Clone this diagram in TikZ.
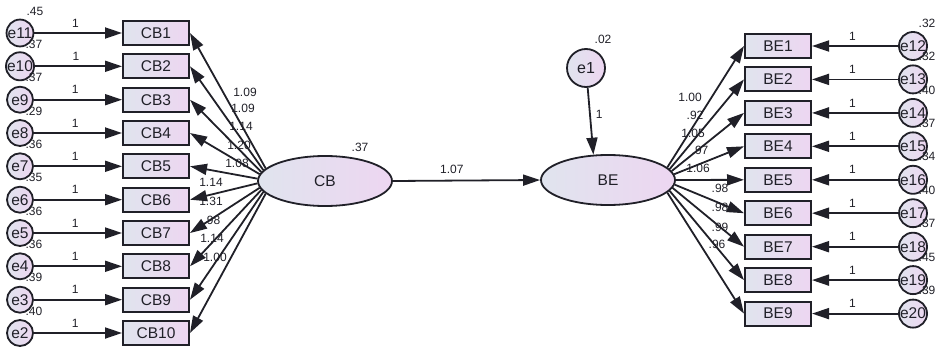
\documentclass[tikz,border=0pt]{standalone}
\usepackage{fontspec}
\setmainfont{Liberation Sans}
\usetikzlibrary{arrows.meta,shapes.geometric}
\definecolor{inkgray}{HTML}{202028}
\definecolor{fillA}{HTML}{E0E4EE}
\definecolor{fillB}{HTML}{EDD6F1}

\begin{document}
\begin{tikzpicture}[x=1pt,y=-1pt]
        \tikzset{obs/.style = {shape=rectangle,draw=inkgray,line width=2pt,left color=fillA,right color=fillB,minimum width=66pt,minimum height=24pt,inner sep=0pt,text=inkgray,font=\fontsize{15.5}{15.5}\selectfont}}
        \tikzset{err/.style = {shape=circle,draw=inkgray,line width=1.8pt,left color=fillA,right color=fillB,minimum size=26pt,inner sep=0pt,text=inkgray,font=\fontsize{15.5}{15.5}\selectfont}}
        \tikzset{latent/.style = {shape=ellipse,draw=inkgray,line width=1.8pt,left color=fillA,right color=fillB,minimum width=134pt,minimum height=50pt,inner sep=0pt,text=inkgray,font=\fontsize{15.5}{15.5}\selectfont}}
        \tikzset{edge/.style = {-{Triangle[length=17pt,width=11pt]},line width=1.8pt,draw=inkgray}}
        \tikzset{coef/.style = {inner sep=0pt,text=inkgray,font=\fontsize{12}{12}\selectfont}}
        \useasboundingbox (0,0) rectangle (936,348);
        % latent variables
        \node[latent] (CB) at (325,181) {CB};
        \node[latent] (BE) at (608,180) {BE};
        \node[err,minimum size=38pt,font=\fontsize{16}{16}\selectfont] (e1) at (586,68) {e1};
        % observed, CB side
        \node[obs] (CB1)  at (156,33)    {CB1};
        \node[obs] (CB2)  at (156,66.3)  {CB2};
        \node[obs] (CB3)  at (156,99.7)  {CB3};
        \node[obs] (CB4)  at (156,133)   {CB4};
        \node[obs] (CB5)  at (156,166.3) {CB5};
        \node[obs] (CB6)  at (156,199.7) {CB6};
        \node[obs] (CB7)  at (156,233)   {CB7};
        \node[obs] (CB8)  at (156,266.3) {CB8};
        \node[obs] (CB9)  at (156,299.7) {CB9};
        \node[obs] (CB10) at (156,333)   {CB10};
        % errors, CB side
        \node[err] (e11) at (20,33)    {e11};
        \node[err] (e10) at (20,66.3)  {e10};
        \node[err] (e9)  at (20,99.7)  {e9};
        \node[err] (e8)  at (20,133)   {e8};
        \node[err] (e7)  at (20,166.3) {e7};
        \node[err] (e6)  at (20,199.7) {e6};
        \node[err] (e5)  at (20,233)   {e5};
        \node[err] (e4)  at (20,266.3) {e4};
        \node[err] (e3)  at (20,299.7) {e3};
        \node[err] (e2)  at (20,333)   {e2};
        % observed, BE side
        \node[obs] (BE1) at (778,46)    {BE1};
        \node[obs] (BE2) at (778,79.4)  {BE2};
        \node[obs] (BE3) at (778,112.9) {BE3};
        \node[obs] (BE4) at (778,146.3) {BE4};
        \node[obs] (BE5) at (778,179.8) {BE5};
        \node[obs] (BE6) at (778,213.2) {BE6};
        \node[obs] (BE7) at (778,246.7) {BE7};
        \node[obs] (BE8) at (778,280.1) {BE8};
        \node[obs] (BE9) at (778,313.6) {BE9};
        % errors, BE side
        \node[err] (e12) at (913,46)    {e12};
        \node[err] (e13) at (913,79.4)  {e13};
        \node[err] (e14) at (913,112.9) {e14};
        \node[err] (e15) at (913,146.3) {e15};
        \node[err] (e16) at (913,179.8) {e16};
        \node[err] (e17) at (913,213.2) {e17};
        \node[err] (e18) at (913,246.7) {e18};
        \node[err] (e19) at (913,280.1) {e19};
        \node[err] (e20) at (913,313.6) {e20};
        % edges
        \draw[edge] (CB.east) -- node[coef,above=6pt,pos=0.4] (lCBBE) {1.07} (BE.west);
        \draw[edge] (e1) -- node[coef,right=5pt,pos=0.4] (u1) {1} (BE.120);
        \draw[edge] (CB.168) -- (CB1.east);
        \draw[edge] (CB.170) -- (CB2.east);
        \draw[edge] (CB.172) -- (CB3.east);
        \draw[edge] (CB.174) -- (CB4.east);
        \draw[edge] (CB.178) -- (CB5.east);
        \draw[edge] (CB.182) -- (CB6.east);
        \draw[edge] (CB.186) -- (CB7.east);
        \draw[edge] (CB.188) -- (CB8.east);
        \draw[edge] (CB.190) -- (CB9.east);
        \draw[edge] (CB.192) -- (CB10.east);
        \draw[edge] (BE.12)  -- (BE1.west);
        \draw[edge] (BE.10)  -- (BE2.west);
        \draw[edge] (BE.8)   -- (BE3.west);
        \draw[edge] (BE.5)   -- (BE4.west);
        \draw[edge] (BE.0)   -- (BE5.west);
        \draw[edge] (BE.-4)  -- (BE6.west);
        \draw[edge] (BE.-7)  -- (BE7.west);
        \draw[edge] (BE.-10) -- (BE8.west);
        \draw[edge] (BE.-12) -- (BE9.west);
        \draw[edge] (e11) -- node[coef,above=5pt,pos=0.47] (u11) {1} (CB1);
        \draw[edge] (e10) -- node[coef,above=5pt,pos=0.47] (u10) {1} (CB2);
        \draw[edge] (e9)  -- node[coef,above=5pt,pos=0.47] (u9)  {1} (CB3);
        \draw[edge] (e8)  -- node[coef,above=5pt,pos=0.47] (u8)  {1} (CB4);
        \draw[edge] (e7)  -- node[coef,above=5pt,pos=0.47] (u7)  {1} (CB5);
        \draw[edge] (e6)  -- node[coef,above=5pt,pos=0.47] (u6)  {1} (CB6);
        \draw[edge] (e5)  -- node[coef,above=5pt,pos=0.47] (u5)  {1} (CB7);
        \draw[edge] (e4)  -- node[coef,above=5pt,pos=0.47] (u4)  {1} (CB8);
        \draw[edge] (e3)  -- node[coef,above=5pt,pos=0.47] (u3)  {1} (CB9);
        \draw[edge] (e2)  -- node[coef,above=5pt,pos=0.47] (u2)  {1} (CB10);
        \draw[edge] (e12) -- node[coef,above=5pt,pos=0.53] (u12) {1} (BE1);
        \draw[edge] (e13) -- node[coef,above=5pt,pos=0.53] (u13) {1} (BE2);
        \draw[edge] (e14) -- node[coef,above=5pt,pos=0.53] (u14) {1} (BE3);
        \draw[edge] (e15) -- node[coef,above=5pt,pos=0.53] (u15) {1} (BE4);
        \draw[edge] (e16) -- node[coef,above=5pt,pos=0.53] (u16) {1} (BE5);
        \draw[edge] (e17) -- node[coef,above=5pt,pos=0.53] (u17) {1} (BE6);
        \draw[edge] (e18) -- node[coef,above=5pt,pos=0.53] (u18) {1} (BE7);
        \draw[edge] (e19) -- node[coef,above=5pt,pos=0.53] (u19) {1} (BE8);
        \draw[edge] (e20) -- node[coef,above=5pt,pos=0.53] (u20) {1} (BE9);
        % loadings
        \node[coef] (lCB1)  at (245,92)  {1.09};
        \node[coef] (lCB2)  at (243,108) {1.09};
        \node[coef] (lCB3)  at (241,126) {1.14};
        \node[coef] (lCB4)  at (239,145) {1.20};
        \node[coef] (lCB5)  at (237,163) {1.08};
        \node[coef] (lCB6)  at (211,182) {1.14};
        \node[coef] (lCB7)  at (211,201) {1.31};
        \node[coef] (lCB8)  at (212,220) {.98};
        \node[coef] (lCB9)  at (212,238) {1.14};
        \node[coef] (lCB10) at (215,257) {1.00};
        \node[coef] (lBE1) at (690,97)  {1.00};
        \node[coef] (lBE2) at (695,115) {.92};
        \node[coef] (lBE3) at (693,133) {1.05};
        \node[coef] (lBE4) at (700,150) {.97};
        \node[coef] (lBE5) at (698,168) {1.06};
        \node[coef] (lBE6) at (720,188) {.98};
        \node[coef] (lBE7) at (720,207) {.98};
        \node[coef] (lBE8) at (720,227) {.99};
        \node[coef] (lBE9) at (717,244) {.96};
        % variances
        \node[coef] (vCB) at (360,147) {.37};
        \node[coef] (v1)  at (603,39)  {.02};
        \node[coef] (v11) at (35,11)    {.45};
        \node[coef] (v10) at (34,44.3)  {.37};
        \node[coef] (v9)  at (34,77.7)  {.37};
        \node[coef] (v8)  at (34,111)   {.29};
        \node[coef] (v7)  at (34,144.3) {.36};
        \node[coef] (v6)  at (34,177.7) {.35};
        \node[coef] (v5)  at (34,211)   {.36};
        \node[coef] (v4)  at (34,244.3) {.36};
        \node[coef] (v3)  at (34,277.7) {.39};
        \node[coef] (v2)  at (34,311)   {.40};
        \node[coef] (v12) at (927,23)    {.32};
        \node[coef] (v13) at (927,56.4)  {.32};
        \node[coef] (v14) at (927,89.9)  {.40};
        \node[coef] (v15) at (927,123.3) {.37};
        \node[coef] (v16) at (927,156.8) {.34};
        \node[coef] (v17) at (927,190.2) {.40};
        \node[coef] (v18) at (927,223.7) {.37};
        \node[coef] (v19) at (927,257.1) {.45};
        \node[coef] (v20) at (927,290.6) {.39};
\end{tikzpicture}
\end{document}
